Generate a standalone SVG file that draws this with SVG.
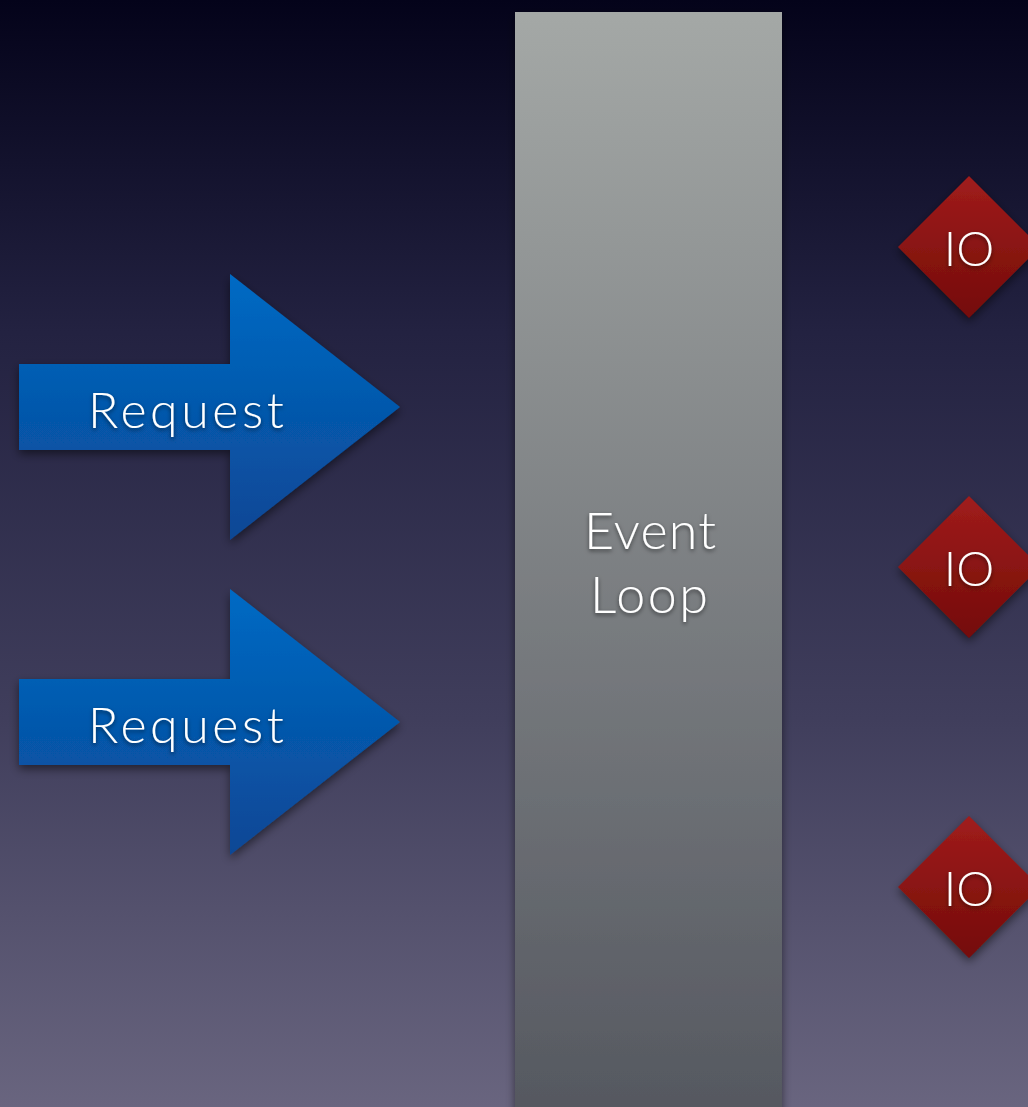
<svg xmlns="http://www.w3.org/2000/svg" width="1028" height="1107" viewBox="0 0 1028 1107">
<defs>
<style>
.lbl{font-family:Lato,"Liberation Sans","Open Sans",sans-serif;font-weight:300;fill:#ffffff;text-anchor:middle;filter:url(#tsh)}
</style>
<linearGradient id="bg" x1="0" y1="0" x2="0" y2="1">
<stop offset="0" stop-color="#04031a"/>
<stop offset="0.3" stop-color="#232241"/>
<stop offset="0.65" stop-color="#403e5c"/>
<stop offset="1" stop-color="#69657f"/>
</linearGradient>
<linearGradient id="bar" x1="0" y1="0" x2="0" y2="1">
<stop offset="0" stop-color="#a4a8a6"/>
<stop offset="1" stop-color="#555860"/>
</linearGradient>
<linearGradient id="arr" x1="0" y1="0" x2="0" y2="1">
<stop offset="0" stop-color="#006ac4"/>
<stop offset="1" stop-color="#0b4795"/>
</linearGradient>
<linearGradient id="dia" x1="0" y1="0" x2="0" y2="1">
<stop offset="0" stop-color="#a01c1c"/>
<stop offset="1" stop-color="#740c08"/>
</linearGradient>
<filter id="sh" x="-20%" y="-20%" width="140%" height="140%">
<feDropShadow dx="0" dy="4" stdDeviation="5" flood-color="#000" flood-opacity="0.5"/>
</filter>
<filter id="tsh" x="-20%" y="-20%" width="140%" height="140%">
<feDropShadow dx="0" dy="2" stdDeviation="2" flood-color="#000" flood-opacity="0.55"/>
</filter>
</defs>
<rect x="0" y="0" width="1028" height="1107" fill="url(#bg)"/>
<g id="event-loop">
<rect x="515" y="12" width="267" height="1100" fill="url(#bar)" filter="url(#sh)"/>
<text class="lbl" x="650" y="549" font-size="52" textLength="132" lengthAdjust="spacing">Event</text>
<text class="lbl" x="649" y="613" font-size="52" textLength="118" lengthAdjust="spacing">Loop</text>
</g>
<g id="request-1">
<polygon points="19,364 230,364 230,274 400,407 230,540 230,450 19,450" fill="url(#arr)" filter="url(#sh)"/>
<text class="lbl" x="186" y="428" font-size="50" textLength="196" lengthAdjust="spacing">Request</text>
</g>
<g id="request-2">
<polygon points="19,679 230,679 230,589 400,722 230,855 230,765 19,765" fill="url(#arr)" filter="url(#sh)"/>
<text class="lbl" x="186" y="743" font-size="50" textLength="196" lengthAdjust="spacing">Request</text>
</g>
<g id="io-1">
<polygon points="969,176 1040,247 969,318 898,247" fill="url(#dia)" filter="url(#sh)"/>
<text class="lbl" x="969" y="266" font-size="48">IO</text>
</g>
<g id="io-2">
<polygon points="969,496 1040,567 969,638 898,567" fill="url(#dia)" filter="url(#sh)"/>
<text class="lbl" x="969" y="586" font-size="48">IO</text>
</g>
<g id="io-3">
<polygon points="969,816 1040,887 969,958 898,887" fill="url(#dia)" filter="url(#sh)"/>
<text class="lbl" x="969" y="906" font-size="48">IO</text>
</g>
<g id="connectors"/>
</svg>
